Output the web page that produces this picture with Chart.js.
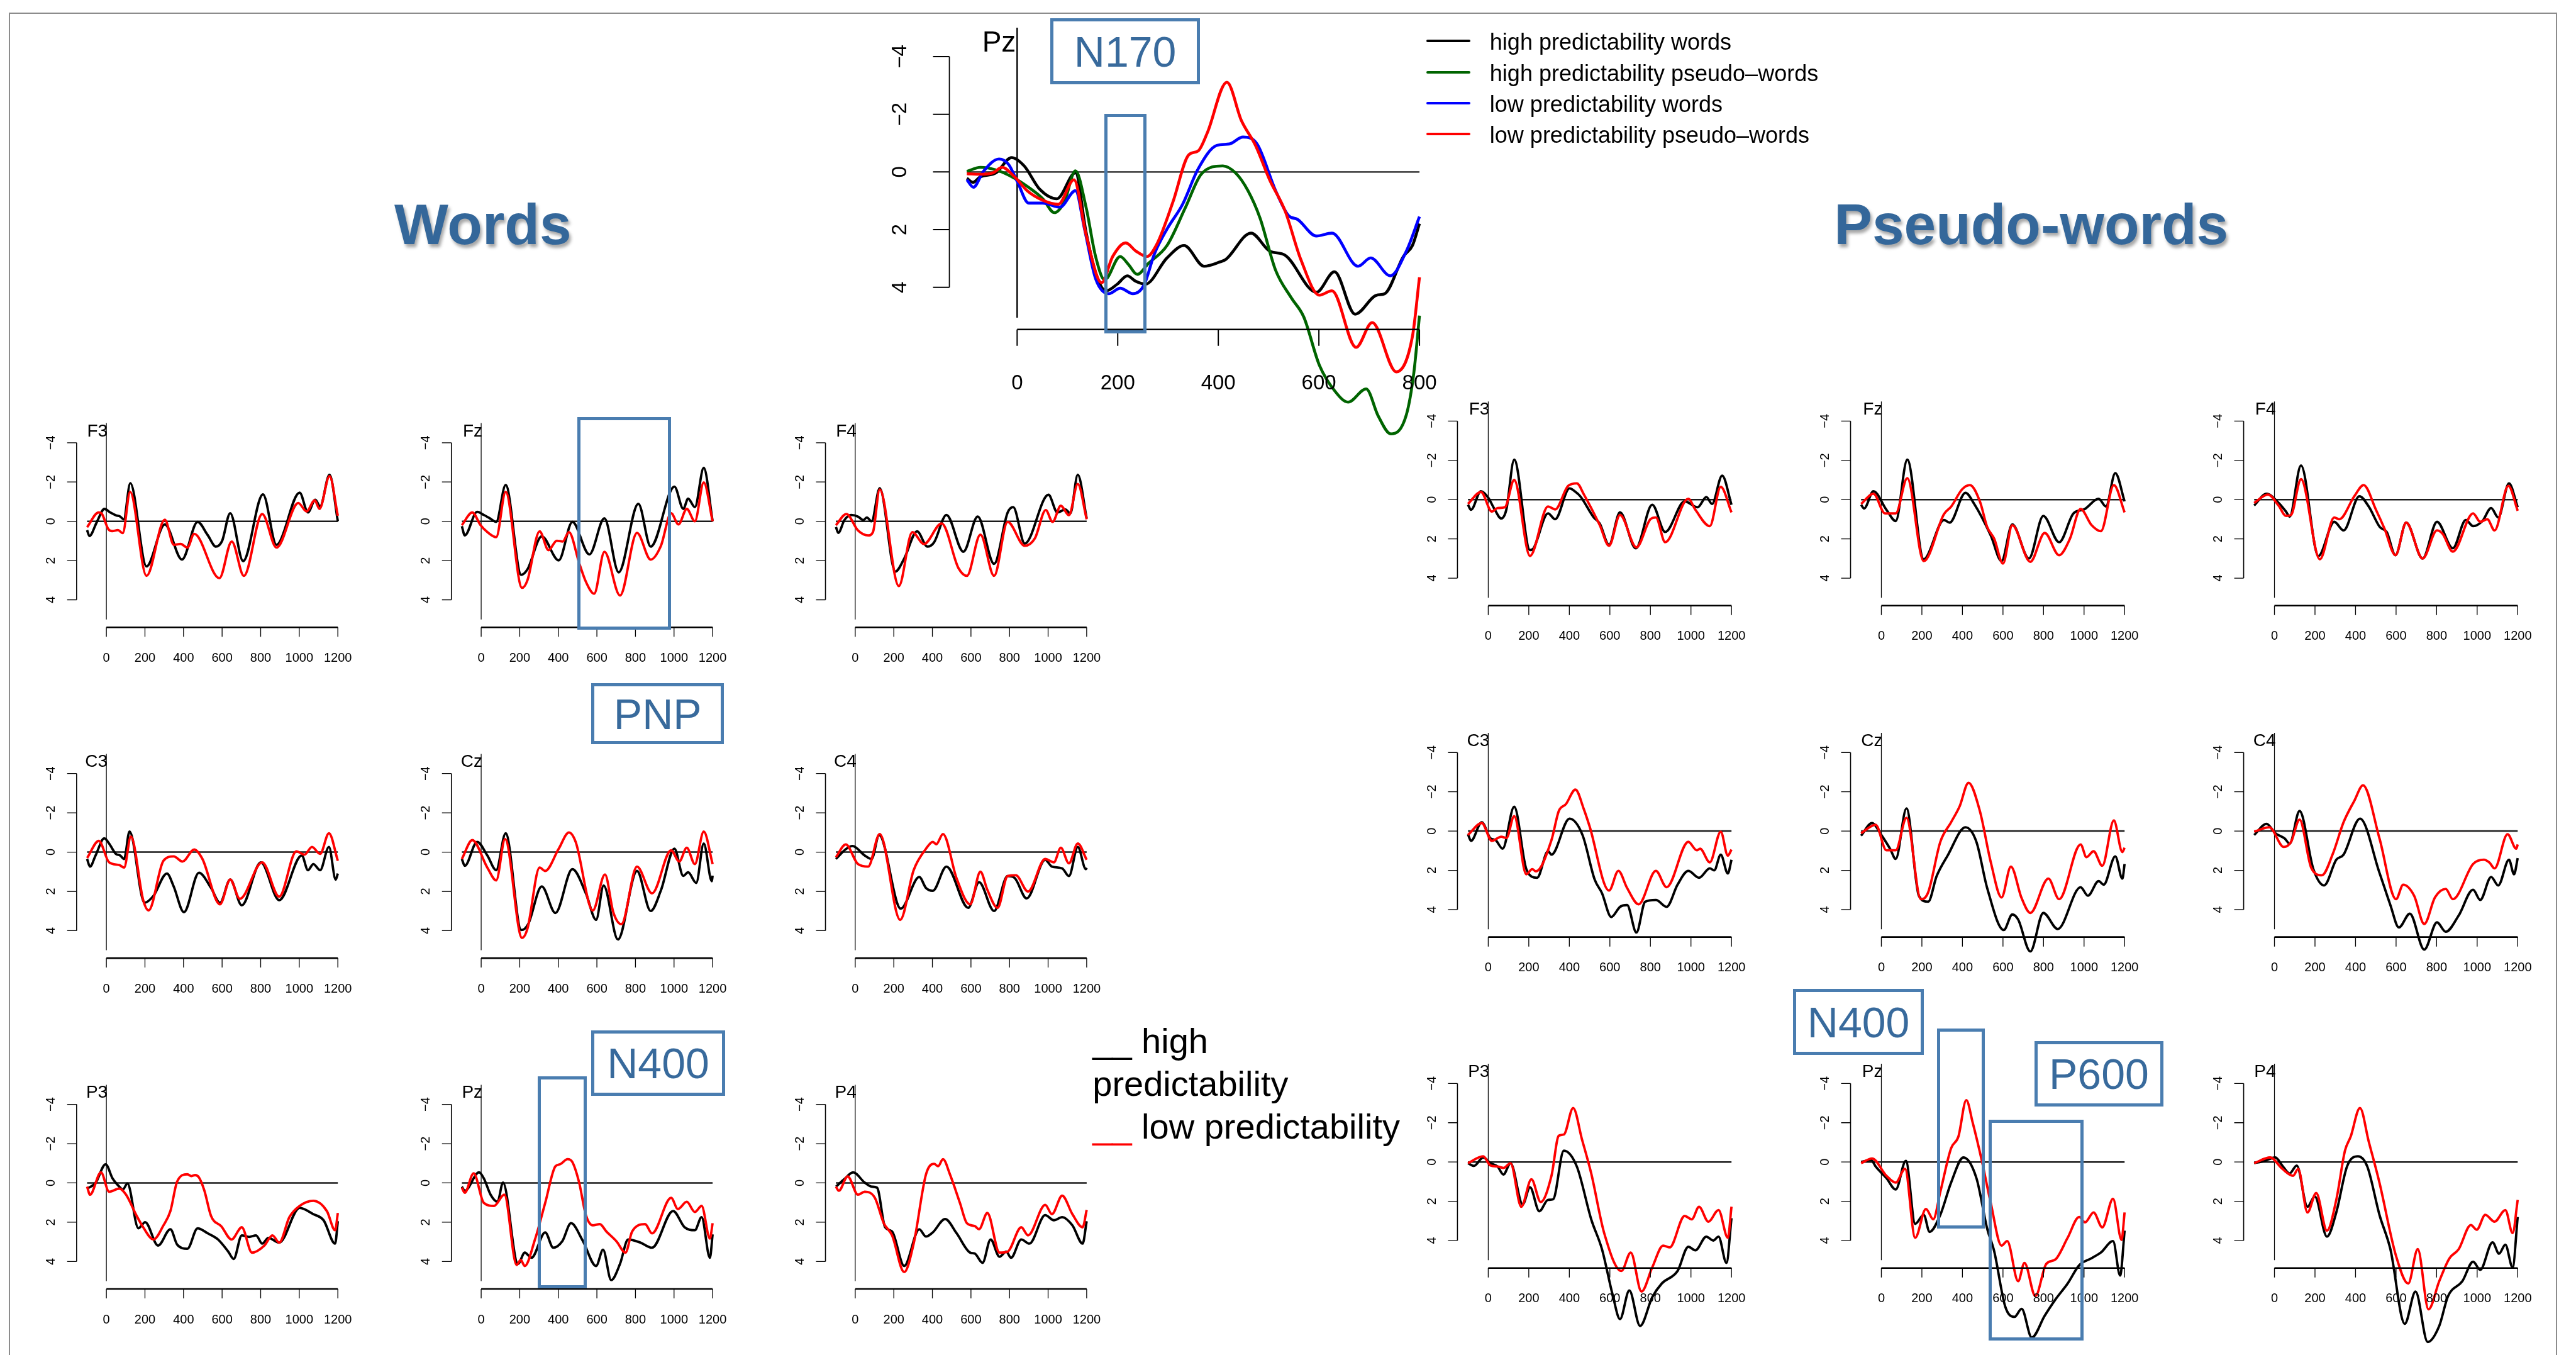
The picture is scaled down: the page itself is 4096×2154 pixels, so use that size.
<!DOCTYPE html>
<html>
<head>
<meta charset="utf-8">
<script src="https://cdn.jsdelivr.net/npm/chart.js@4.4.0/dist/chart.umd.min.js"></script>
<style>
html, body { margin: 0; padding: 0; background: #fff; }
body { width: 4096px; height: 2154px; position: relative; overflow: hidden; font-family: "Liberation Sans", Arial, sans-serif; }
canvas { position: absolute; }
.frame { position: absolute; border: 2.5px solid #8c8c8c; border-bottom: none; box-sizing: border-box; }
.title { position: absolute; font-weight: bold; color: #34679a; font-size: 91px; white-space: nowrap;
         text-shadow: 3px 5px 5px rgba(0,0,0,0.35); transform: translate(-50%, -50%); }
.box { position: absolute; border: 5px solid #4a7db0; box-sizing: border-box; z-index: 5; }
.tag { background: #fff; color: #386a9c; font-size: 68px; display: flex; align-items: center; justify-content: center; }
.txt { position: absolute; white-space: nowrap; color: #000; }
.lg { position: absolute; height: 4px; border-radius: 2px; }
</style>
</head>
<body>
<script>
// ---- tick labels / categories ----
const SMALL_X_TICKS = [0, 200, 400, 600, 800, 1000, 1200];
const BIG_X_TICKS = [0, 200, 400, 600, 800];
const Y_TICKS = [-4, -2, 0, 2, 4];
const ELECTRODES = [['F3', 'Fz', 'F4'], ['C3', 'Cz', 'C4'], ['P3', 'Pz', 'P4']];
const BIG_LABELS = ['high predictability words', 'high predictability pseudo\u2013words',
                    'low predictability words', 'low predictability pseudo\u2013words'];

// ---- Words, high (black) / low (red) predictability, [ms, µV] ----
const W_F3_HI = [[-100,0.45],[-88,0.75],[-50,0.05],[-10,-0.63],[20,-0.45],[50,-0.3],[70,-0.25],[90,-0.1],[124,-1.94],[208,2.3],[303,0.16],[392,1.95],[473,0.03],[525,0.7],[568,1.29],[600,1.0],[642,-0.41],[709,2.03],[812,-1.37],[882,1.2],[1002,-1.46],[1045,-0.45],[1083,-1.1],[1108,-0.76],[1157,-2.37],[1200,0]];
const W_F3_LO = [[-100,0.3],[-40,-0.45],[-25,-0.4],[10,0.4],[30,0.5],[60,0.45],[85,0.6],[123,-1.5],[208,2.78],[303,-0.08],[350,1.2],[385,1.15],[420,1.34],[455,0.64],[586,2.9],[650,1.03],[713,2.78],[808,-0.37],[882,1.34],[995,-0.93],[1038,-0.5],[1080,-1.07],[1105,-0.63],[1157,-2.3],[1200,-0.28]];
const W_FZ_HI = [[-100,0.25],[-85,0.72],[-21,-0.48],[14,-0.32],[45,-0.15],[78,0.03],[127,-1.85],[208,2.73],[240,2.45],[314,0.77],[402,1.99],[473,0.03],[561,1.69],[639,-0.15],[713,2.6],[815,-0.89],[879,1.29],[1002,-1.76],[1048,-0.63],[1073,-1.15],[1108,-0.72],[1154,-2.72],[1200,0]];
const W_FZ_LO = [[-100,0.2],[-46,-0.45],[-3,0.2],[32,0.55],[78,0.81],[127,-1.5],[212,3.39],[240,3.0],[303,0.51],[349,1.47],[392,0.99],[423,1.03],[455,0.55],[508,2.12],[543,3.08],[586,3.69],[639,1.55],[720,3.78],[808,0.59],[879,1.95],[932,1.25],[985,-0.41],[1023,0.16],[1066,-0.63],[1108,0],[1154,-1.98],[1200,0]];
const W_F4_HI = [[-100,0.29],[-88,0.59],[-56,-0.06],[-21,-0.32],[14,-0.24],[42,-0.06],[60,-0.19],[85,0],[127,-1.68],[208,2.56],[254,1.9],[321,0.51],[374,1.29],[409,1.07],[473,-0.32],[561,1.55],[635,-0.24],[720,2.17],[790,-0.44],[819,-0.72],[879,1.14],[1002,-1.35],[1048,-0.45],[1090,-0.6],[1115,-0.4],[1154,-2.37],[1200,-0.15]];
const W_F4_LO = [[-100,0.2],[-46,-0.37],[14,0.46],[67,0.72],[92,0.55],[127,-1.62],[226,3.3],[296,0.55],[356,1.16],[448,0.11],[536,2.4],[579,2.78],[649,0.68],[720,2.78],[790,0.03],[879,1.25],[932,0.86],[988,-0.57],[1023,0.03],[1066,-0.79],[1108,-0.31],[1154,-1.9],[1200,-0.1]];
const W_C3_HI = [[-100,0.35],[-85,0.74],[-56,0.17],[-11,-0.7],[14,-0.44],[49,0.09],[71,0.17],[92,0.35],[120,-1.05],[198,2.58],[244,2.23],[314,1.09],[349,1.75],[402,3.06],[480,1.05],[543,1.83],[589,2.58],[642,1.4],[702,2.71],[801,0.52],[896,2.45],[1013,0.17],[1045,0.92],[1073,0.61],[1108,0.92],[1154,-0.26],[1189,1.4],[1200,1.09]];
const W_C3_LO = [[-100,0.3],[-39,-0.57],[14,0.52],[67,0.66],[92,0.79],[127,-0.79],[191,2.45],[219,2.97],[296,0.44],[349,0.22],[395,0.48],[455,-0.13],[498,0.35],[589,2.66],[642,1.4],[692,2.38],[808,0.52],[896,2.27],[985,-0.04],[1027,0.13],[1066,-0.26],[1108,0.09],[1154,-0.96],[1200,0.44]];
const W_CZ_HI = [[-100,0.35],[-85,0.7],[-21,-0.52],[32,0.17],[78,0.92],[127,-0.96],[208,3.97],[244,3.66],[314,1.75],[385,3.1],[473,0.87],[543,2.1],[596,3.45],[635,1.7],[709,4.45],[808,0.96],[879,3.0],[932,1.95],[1002,-0.17],[1048,1.21],[1073,1.03],[1115,1.57],[1154,-0.44],[1196,1.48],[1200,1.2]];
const W_CZ_LO = [[-100,0.35],[-46,-0.61],[32,0.79],[78,1.44],[124,-0.66],[212,4.37],[240,3.9],[303,0.79],[332,0.96],[402,-0.17],[455,-1.0],[490,-0.52],[579,2.97],[642,1.14],[685,3.06],[727,3.67],[808,0.74],[886,2.1],[985,-0.09],[1027,0.48],[1066,-0.22],[1108,0.61],[1154,-1.05],[1200,0.61]];
const W_C4_HI = [[-100,0.35],[-46,-0.17],[-14,-0.31],[49,0.17],[85,0.35],[124,-0.87],[236,2.88],[332,1.27],[367,1.83],[402,1.97],[473,0.74],[586,2.84],[642,1.53],[720,3.0],[790,1.22],[826,1.31],[889,2.36],[985,0.39],[1020,0.74],[1073,0.83],[1108,1.22],[1154,-0.26],[1196,0.87],[1200,0.8]];
const W_C4_LO = [[-100,0.26],[-49,-0.39],[14,0.61],[67,0.74],[127,-0.92],[233,3.45],[303,0.92],[367,-0.17],[402,-0.52],[420,-0.4],[455,-0.92],[526,1.35],[596,2.66],[649,1.0],[685,1.92],[738,2.84],[790,1.22],[833,1.18],[896,2.01],[985,0.35],[1030,0.52],[1066,-0.22],[1108,0.57],[1154,-0.44],[1200,0.39]];
const W_P3_HI = [[-100,0.29],[-56,0],[-4,-0.95],[32,-0.23],[67,0.19],[85,0.34],[109,0.03],[166,2.31],[201,2.0],[268,3.19],[332,2.36],[367,3.14],[420,3.35],[473,2.31],[526,2.57],[579,2.88],[632,3.5],[660,3.87],[702,2.67],[740,2.75],[776,2.67],[808,3.09],[840,2.8],[896,3.04],[1002,1.27],[1073,1.59],[1126,1.9],[1186,3.09],[1200,1.95]];
const W_P3_LO = [[-100,0.19],[-85,0.6],[-28,-0.54],[14,0.45],[67,0.29],[102,0.6],[155,1.64],[191,2.26],[244,2.88],[296,2.16],[332,1.43],[367,-0.07],[420,-0.44],[440,-0.35],[460,-0.4],[480,-0.28],[508,0.39],[543,1.69],[596,2.21],[649,2.88],[702,2.26],[755,3.55],[819,3.19],[861,2.67],[896,3.04],[949,1.74],[1002,1.17],[1073,0.91],[1143,1.43],[1186,2.41],[1200,1.53]];
const W_PZ_HI = [[-100,0.19],[-85,0.4],[-11,-0.54],[14,-0.23],[49,0.6],[85,0.96],[113,-0.02],[191,4.12],[226,3.55],[261,3.81],[332,2.52],[374,3.3],[420,2.98],[466,2.05],[526,2.93],[596,4.23],[632,3.4],[674,4.95],[720,4.12],[762,2.88],[826,3.04],[886,3.3],[995,1.43],[1055,2.26],[1108,2.41],[1143,1.74],[1186,3.81],[1200,2.62]];
const W_PZ_LO = [[-100,0.24],[-85,0.5],[-39,-0.49],[14,1.02],[67,1.17],[120,0.6],[184,4.18],[205,3.92],[226,4.23],[279,2.88],[332,1.02],[385,-0.85],[409,-0.95],[448,-1.21],[473,-1.06],[508,-0.02],[543,1.64],[579,2.16],[615,2.1],[649,2.47],[702,2.98],[748,3.55],[783,2.47],[850,2.1],[886,2.57],[985,0.76],[1020,1.33],[1066,0.96],[1108,1.48],[1143,1.17],[1186,2.83],[1200,2.05]];
const W_P4_HI = [[-100,0.19],[-56,-0.2],[-11,-0.54],[49,-0.02],[85,0.19],[113,0.24],[155,2.26],[191,2.47],[254,4.23],[332,2.36],[367,2.73],[402,2.52],[466,1.84],[526,2.57],[596,3.55],[620,3.6],[660,4.07],[702,2.88],[748,3.76],[783,3.5],[808,3.81],[861,2.88],[903,3.09],[985,1.64],[1030,1.9],[1073,1.74],[1126,2.16],[1179,3.09],[1200,1.95]];
const W_P4_LO = [[-100,0.19],[-85,0.4],[-39,-0.33],[14,0.6],[49,0.45],[102,0.76],[148,2.05],[191,2.67],[254,4.54],[303,3.09],[367,-0.44],[409,-0.97],[430,-0.85],[455,-1.21],[491,-0.44],[543,1.02],[579,2.05],[620,2.2],[642,2.36],[685,1.53],[748,3.55],[790,3.5],[861,2.26],[896,2.67],[985,1.12],[1020,1.59],[1073,0.65],[1126,1.59],[1179,2.26],[1200,1.38]];

// ---- Pseudo-words, high (black) / low (red) predictability, [ms, µV] ----
const P_F3_HI = [[-100,0.26],[-85,0.52],[-36,-0.43],[0,-0.1],[28,0.43],[64,0.96],[89,0.52],[128,-2.04],[206,2.57],[222,2.5],[295,0.7],[330,1.0],[401,-0.57],[430,-0.4],[454,-0.17],[520,0.9],[550,1.22],[596,2.3],[650,0.65],[728,2.48],[809,0.26],[873,1.65],[969,0.09],[1033,0.39],[1076,-0.13],[1104,0.22],[1154,-1.22],[1200,0.26]];
const P_F3_LO = [[-100,0.22],[-36,-0.39],[18,0.61],[46,0.43],[82,0.39],[128,-1.0],[206,2.87],[295,0.35],[330,0.5],[394,-0.7],[437,-0.83],[472,-0.26],[550,1.3],[596,2.35],[650,0.78],[731,2.43],[800,1.0],[827,0.91],[873,2.17],[987,-0.04],[1022,0.52],[1093,1.35],[1147,-0.65],[1200,0.65]];
const P_FZ_HI = [[-100,0.26],[-85,0.45],[-39,-0.43],[25,0.52],[71,1.09],[128,-2.04],[209,3.04],[309,1.04],[337,1.17],[415,-0.35],[458,0.22],[540,1.83],[593,3.13],[646,1.26],[728,3.0],[799,0.83],[877,2.17],[948,0.7],[1000,0.5],[1072,-0.04],[1108,0.35],[1154,-1.35],[1200,0.09]];
const P_FZ_LO = [[-100,0.22],[-39,-0.3],[18,0.7],[71,0.7],[128,-1.09],[209,3.13],[309,0.74],[345,0.35],[398,-0.52],[437,-0.74],[486,0.09],[522,1.39],[557,2.0],[600,3.26],[646,1.3],[735,3.17],[806,1.7],[877,2.83],[930,2.0],[983,0.48],[1037,1.3],[1083,1.61],[1147,-0.74],[1200,0.65]];
const P_F4_HI = [[-100,0.3],[-39,-0.3],[21,0.17],[57,0.61],[75,0.87],[131,-1.74],[217,2.87],[295,1.13],[341,1.57],[419,-0.17],[465,0.35],[520,1.4],[554,1.65],[597,2.83],[650,1.17],[731,3.0],[802,1.13],[880,2.48],[944,1.04],[980,1.35],[1026,1.09],[1069,0.43],[1104,0.91],[1157,-0.83],[1200,0.39]];
const P_F4_LO = [[-100,0.17],[-32,-0.26],[20,0.3],[57,0.83],[82,0.78],[131,-1.04],[224,3.04],[295,0.91],[320,1.0],[394,-0.17],[440,-0.74],[501,0.52],[543,1.48],[597,2.83],[650,1.17],[731,3.0],[802,1.57],[830,1.75],[880,2.65],[980,0.7],[1015,1.13],[1050,1.0],[1086,1.57],[1154,-0.7],[1200,0.57]];
const P_C3_HI = [[-100,0.16],[-85,0.5],[-32,-0.45],[11,0.37],[36,0.46],[71,0.9],[128,-1.24],[188,1.94],[241,2.38],[295,1.03],[312,1.2],[401,-0.63],[465,0.2],[525,2.47],[561,3.16],[607,4.38],[650,3.86],[685,3.77],[731,5.17],[774,3.6],[827,3.51],[880,3.86],[934,2.73],[987,2.03],[1040,2.38],[1093,1.9],[1115,2.0],[1147,1.2],[1182,2.16],[1200,1.46]];
const P_C3_LO = [[-100,0.2],[-32,-0.41],[18,0.5],[64,0.29],[90,0.35],[128,-0.76],[188,2.2],[217,1.94],[235,2.05],[312,0.46],[348,-1.02],[383,-1.37],[430,-2.11],[472,-1.1],[500,-0.24],[596,3.03],[642,2.03],[685,2.9],[742,3.73],[827,2.03],[880,2.86],[987,0.55],[1029,0.98],[1045,0.9],[1093,1.59],[1147,0.03],[1182,1.25],[1200,0.94]];
const P_CZ_HI = [[-100,0.24],[-46,-0.41],[0,0.2],[43,0.9],[71,1.42],[124,-1.15],[185,3.29],[231,3.6],[273,2.29],[327,1.25],[415,-0.19],[469,0.55],[522,2.9],[604,5.04],[646,4.25],[675,4.51],[735,6.13],[799,4.17],[870,4.99],[983,2.86],[1019,3.29],[1072,2.55],[1097,2.73],[1154,1.29],[1189,2.42],[1200,1.68]];
const P_CZ_LO = [[-100,0.11],[-28,-0.32],[25,0.98],[71,0.98],[124,-0.67],[195,3.47],[231,3.12],[291,0.55],[344,-0.45],[387,-1.28],[430,-2.46],[486,-1.02],[540,1.59],[593,3.38],[639,1.81],[692,3.42],[735,4.17],[824,2.42],[877,3.47],[983,0.68],[1012,1.33],[1047,1.03],[1090,1.77],[1147,-0.54],[1189,1.07],[1200,0.85]];
const P_C4_HI = [[-100,0.2],[-39,-0.37],[4,0.11],[50,0.37],[75,0.64],[124,-1.02],[192,1.94],[245,2.77],[305,1.46],[341,1.2],[422,-0.63],[518,2.12],[572,3.77],[614,4.91],[668,4.21],[739,6.04],[802,4.65],[845,5.13],[909,4.3],[980,2.99],[1015,3.51],[1069,2.34],[1104,2.77],[1157,1.46],[1182,2.2],[1200,1.38]];
const P_C4_LO = [[-100,0.03],[-25,-0.19],[46,0.81],[82,0.55],[124,-0.58],[181,1.86],[234,2.25],[288,1.16],[341,-0.45],[394,-1.54],[437,-2.33],[518,0.37],[600,3.47],[635,2.73],[689,3.29],[739,4.73],[792,3.38],[845,2.95],[880,3.47],[980,1.68],[1033,1.46],[1060,1.6],[1086,1.9],[1150,0.16],[1193,0.9],[1200,0.68]];
const P_P3_HI = [[-100,0.06],[-70,0.2],[-25,-0.23],[11,0.06],[46,0.23],[75,0.64],[110,0.06],[170,2.16],[206,1.29],[252,2.51],[295,1.93],[320,1.9],[373,-0.58],[437,0.23],[508,2.92],[561,4.44],[614,6.78],[650,8.0],[696,6.54],[749,8.35],[809,6.89],[856,6.19],[934,5.55],[987,4.32],[1022,4.5],[1076,3.8],[1110,4.0],[1136,3.8],[1175,5.14],[1200,2.86]];
const P_P3_LO = [[-100,0.06],[-25,-0.29],[11,0.18],[46,0.23],[75,0.3],[110,0.06],[163,2.28],[213,0.88],[259,2.04],[312,0.7],[348,-1.34],[373,-1.4],[419,-2.75],[462,-1.17],[508,0.58],[572,3.62],[657,5.55],[703,4.61],[756,6.6],[809,5.37],[863,4.26],[895,4.35],[969,2.75],[1004,2.92],[1040,2.28],[1086,3.04],[1136,2.45],[1182,3.86],[1200,2.28]];
const P_PZ_HI = [[-100,0],[-50,-0.1],[-28,0.23],[25,0.82],[71,1.4],[121,-0.06],[167,3.15],[209,2.69],[238,3.56],[291,2.69],[344,1.05],[405,-0.23],[469,0.82],[522,3.39],[557,4.56],[611,7.36],[657,7.89],[692,7.48],[742,8.94],[806,7.83],[859,7.0],[919,6.19],[976,5.26],[1037,4.9],[1083,4.61],[1143,4.03],[1178,5.78],[1200,3.5]];
const P_PZ_LO = [[-100,0.06],[-46,-0.18],[25,0.7],[71,1.05],[117,0.35],[167,3.86],[220,2.39],[256,2.92],[291,1.52],[344,-0.7],[380,-1.29],[419,-3.15],[451,-1.99],[497,0],[540,2.1],[593,4.26],[621,4.03],[675,6.07],[706,5.14],[760,6.83],[813,5.2],[859,4.96],[919,3.86],[976,2.8],[1005,3.07],[1047,2.57],[1090,3.33],[1143,1.87],[1185,3.97],[1200,2.57]];
const P_P4_HI = [[-100,0.06],[-50,-0.05],[4,-0.23],[40,0.2],[75,0.58],[110,0.18],[163,2.28],[199,1.75],[259,3.8],[305,2.57],[358,0.23],[412,-0.29],[458,0.23],[518,2.69],[572,4.44],[643,8.24],[696,6.6],[756,9.17],[813,8.35],[856,6.84],[927,6.07],[980,5.08],[1015,5.49],[1076,4.09],[1108,4.67],[1139,4.21],[1175,5.37],[1200,2.8]];
const P_P4_LO = [[-100,0.06],[-21,-0.23],[39,0.35],[92,0.7],[117,0.35],[163,2.57],[206,1.58],[259,3.5],[305,1.93],[348,-0.58],[376,-1.29],[422,-2.75],[465,-1.05],[518,1.05],[600,4.79],[660,6.19],[707,4.44],[760,7.5],[813,6.07],[863,4.91],[909,4.44],[969,3.21],[998,3.45],[1040,2.69],[1086,3.04],[1139,2.45],[1175,3.62],[1200,1.93]];

// ---- large Pz panel, four conditions, [ms, µV] ----
const PZ_HI_WORDS = [[-100,0.22],[-88,0.36],[-73,0.17],[-42,0.03],[-11,-0.5],[14,-0.21],[45,0.6],[79,0.93],[116,0.03],[137,2.08],[156,3.5],[177,4.12],[199,3.89],[219,3.6],[236,3.79],[255,3.89],[298,2.98],[332,2.55],[372,3.27],[403,3.12],[415,3.03],[465,2.12],[502,2.74],[533,2.89],[595,4.17],[631,3.46],[672,4.93],[715,4.27],[731,4.22],[768,2.93],[786,2.55],[800,1.79]];
const PZ_HI_PSEUDO = [[-100,-0.02],[-73,-0.16],[-42,-0.07],[-5,0.22],[32,0.65],[51,0.93],[74,1.41],[94,1.03],[116,-0.04],[137,1.22],[156,2.93],[174,3.74],[205,2.93],[221,3.2],[239,3.55],[261,3.17],[298,2.55],[335,1.22],[366,0.08],[409,-0.21],[434,0.03],[459,0.65],[483,1.6],[514,3.41],[545,4.36],[570,5.03],[601,6.7],[632,7.6],[658,7.98],[694,7.52],[718,8.46],[743,9.08],[774,8.41],[789,6.93],[800,4.98]];
const PZ_LO_WORDS = [[-100,0.27],[-87,0.53],[-67,-0.02],[-36,-0.45],[-17,-0.26],[1,0.36],[23,1.08],[51,1.08],[85,1.22],[116,0.65],[134,1.98],[156,3.7],[182,4.22],[205,4.03],[230,4.22],[252,3.93],[273,2.84],[298,1.98],[329,1.12],[360,-0.11],[397,-0.92],[422,-0.97],[449,-1.21],[477,-0.97],[514,0.65],[539,1.5],[558,1.65],[595,2.22],[626,2.12],[678,3.27],[703,2.98],[742,3.6],[774,2.74],[800,1.55]];
const PZ_LO_PSEUDO = [[-100,0.06],[-73,0.08],[-48,0.03],[-30,-0.16],[-5,0.17],[20,0.65],[51,0.98],[82,1.12],[113,0.27],[137,2.17],[168,3.84],[190,2.93],[216,2.46],[236,2.74],[258,2.93],[279,2.46],[310,1.03],[341,-0.59],[360,-0.73],[378,-1.35],[417,-3.11],[446,-1.78],[474,-0.92],[502,0.27],[533,1.36],[564,3.03],[601,4.27],[626,4.12],[674,6.08],[706,5.22],[754,6.93],[786,5.7],[800,3.65]];

const WORD_SERIES = [[W_F3_HI, W_F3_LO], [W_FZ_HI, W_FZ_LO], [W_F4_HI, W_F4_LO],
                     [W_C3_HI, W_C3_LO], [W_CZ_HI, W_CZ_LO], [W_C4_HI, W_C4_LO],
                     [W_P3_HI, W_P3_LO], [W_PZ_HI, W_PZ_LO], [W_P4_HI, W_P4_LO]];
const PSEUDO_SERIES = [[P_F3_HI, P_F3_LO], [P_FZ_HI, P_FZ_LO], [P_F4_HI, P_F4_LO],
                       [P_C3_HI, P_C3_LO], [P_CZ_HI, P_CZ_LO], [P_C4_HI, P_C4_LO],
                       [P_P3_HI, P_P3_LO], [P_PZ_HI, P_PZ_LO], [P_P4_HI, P_P4_LO]];
const BIG_SERIES = [PZ_HI_WORDS, PZ_HI_PSEUDO, PZ_LO_WORDS, PZ_LO_PSEUDO];
const BIG_COLORS = ['#000000', '#006400', '#0000ff', '#ff0000'];

// ---- layout (reference pixels, scaled by S) ----
const S = 0.816;
const FONT = '"Liberation Sans", Arial, sans-serif';

// R-style axes: lines only from first to last tick, outward ticks, rotated y labels
const rAxes = {
    id: 'rAxes',
    afterDatasetsDraw(chart, args, o) {
        const ctx = chart.ctx, x = chart.scales.x, y = chart.scales.y;
        const fmt = v => (v < 0 ? '\u2212' + Math.abs(v) : String(v));
        ctx.save();
        ctx.strokeStyle = '#000';
        ctx.fillStyle = '#000';

        // y axis
        const ax = x.getPixelForValue(o.yAxisAt);
        ctx.lineWidth = o.yLine;
        ctx.beginPath();
        ctx.moveTo(ax, y.getPixelForValue(o.yTicks[0]));
        ctx.lineTo(ax, y.getPixelForValue(o.yTicks[o.yTicks.length - 1]));
        ctx.stroke();
        ctx.lineWidth = o.tickLine;
        ctx.beginPath();
        o.yTicks.forEach(v => {
            const p = y.getPixelForValue(v);
            ctx.moveTo(ax, p);
            ctx.lineTo(ax - o.tickLen, p);
        });
        ctx.stroke();
        ctx.font = o.tickFont + 'px ' + FONT;
        ctx.textAlign = 'center';
        ctx.textBaseline = 'middle';
        o.yTicks.forEach(v => {
            ctx.save();
            ctx.translate(ax - o.yLabelGap, y.getPixelForValue(v));
            ctx.rotate(-Math.PI / 2);
            ctx.fillText(fmt(v), 0, 0);
            ctx.restore();
        });

        // x axis
        const ay = y.getPixelForValue(o.xAxisAt);
        ctx.lineWidth = o.xLine;
        ctx.beginPath();
        ctx.moveTo(x.getPixelForValue(o.xTicks[0]), ay);
        ctx.lineTo(x.getPixelForValue(o.xTicks[o.xTicks.length - 1]), ay);
        ctx.stroke();
        ctx.lineWidth = o.tickLine;
        ctx.beginPath();
        o.xTicks.forEach(v => {
            const p = x.getPixelForValue(v);
            ctx.moveTo(p, ay);
            ctx.lineTo(p, ay + o.tickLen);
        });
        ctx.stroke();
        o.xTicks.forEach(v => ctx.fillText(fmt(v), x.getPixelForValue(v), ay + o.xLabelGap));

        // electrode label
        ctx.font = o.labelFont + 'px ' + FONT;
        ctx.textAlign = 'right';
        ctx.textBaseline = 'alphabetic';
        ctx.fillText(o.label, x.getPixelForValue(0) + o.labelShift, y.getPixelForValue(o.labelAt));
        ctx.restore();
    }
};

function addPanel(p) {
    const caL = (p.x0 + p.xmin * p.pxMs) * S, caR = (p.x0 + p.xmax * p.pxMs) * S;
    const caT = (p.zero - 4 * p.ppu) * S, caB = (p.zero + 4 * p.ppu) * S;
    const left = Math.floor(caL - p.pad[0]), top = Math.floor(caT - p.pad[1]);
    const right = Math.ceil(caR + p.pad[2]), bottom = Math.ceil(caB + p.pad[3]);
    const cv = document.createElement('canvas');
    cv.width = right - left;
    cv.height = bottom - top;
    cv.style.left = left + 'px';
    cv.style.top = top + 'px';
    document.body.appendChild(cv);

    const line = (data, color, width, order) => ({
        data: data, borderColor: color, borderWidth: width, pointRadius: 0,
        cubicInterpolationMode: 'monotone', clip: false, order: order, fill: false
    });
    const datasets = [
        line([[0, -5], [0, p.vTop]], '#000', p.vWidth, 20),
        line([[p.xmin, 0], [p.xmax, 0]], '#1a1a1a', p.hWidth, 19)
    ];
    p.series.forEach((s, i) => datasets.push(line(s, p.colors[i], p.lineWidth, p.series.length - i)));

    new Chart(cv.getContext('2d'), {
        type: 'line',
        data: { datasets: datasets },
        options: {
            responsive: false,
            animation: false,
            devicePixelRatio: 1,
            events: [],
            layout: { padding: { left: caL - left, top: caT - top, right: right - caR, bottom: bottom - caB } },
            scales: {
                x: { type: 'linear', min: p.xmin, max: p.xmax, display: false },
                y: { type: 'linear', min: -4, max: 4, reverse: true, display: false }
            },
            plugins: {
                legend: { display: false },
                tooltip: { enabled: false },
                rAxes: p.axes
            }
        },
        plugins: [rAxes]
    });
}

function smallAxes(label, yAxisAt) {
    return {
        label: label, labelAt: -4.33, labelShift: 2, labelFont: 28,
        yAxisAt: yAxisAt, xAxisAt: 5.4, xTicks: SMALL_X_TICKS, yTicks: Y_TICKS,
        tickLen: 15, tickLine: 1.3, yLine: 1.6, xLine: 2.6,
        tickFont: 20, yLabelGap: 40, xLabelGap: 49
    };
}

// Words grid
const WORD_X0 = [207.3, 937.6, 1666.5], WORD_ZERO = [1015.5, 1660, 2304.5];
// Pseudo-words grid
const PSEUDO_X0 = [2900, 3666, 4432], PSEUDO_ZERO = [973.3, 1619, 2263.7];

for (let r = 0; r < 3; r++) {
    for (let c = 0; c < 3; c++) {
        addPanel({
            x0: WORD_X0[c], zero: WORD_ZERO[r], pxMs: 451 / 1200, ppu: 38.25,
            xmin: -100, xmax: 1200, vTop: 5, vWidth: 1.2, hWidth: 2.5, lineWidth: 3.8,
            pad: [90, 50, 40, 240], series: WORD_SERIES[r * 3 + c], colors: ['#000000', '#ff0000'],
            axes: smallAxes(ELECTRODES[r][c], -154.3)
        });
        addPanel({
            x0: PSEUDO_X0[c], zero: PSEUDO_ZERO[r], pxMs: 474 / 1200, ppu: 38.25,
            xmin: -100, xmax: 1200, vTop: 5, vWidth: 1.2, hWidth: 2.5, lineWidth: 3.8,
            pad: [90, 50, 40, 240], series: PSEUDO_SERIES[r * 3 + c], colors: ['#000000', '#ff0000'],
            axes: smallAxes(ELECTRODES[r][c], -151.9)
        });
    }
}

// large Pz panel
addPanel({
    x0: 1982, zero: 335, pxMs: 0.98, ppu: 56.2,
    xmin: -100, xmax: 800, vTop: 5.05, vWidth: 2.4, hWidth: 2.4, lineWidth: 4.6,
    pad: [140, 80, 40, 300], series: BIG_SERIES, colors: BIG_COLORS,
    axes: {
        label: 'Pz', labelAt: -4.18, labelShift: -2, labelFont: 46,
        yAxisAt: -134.7, xAxisAt: 5.46, xTicks: BIG_X_TICKS, yTicks: Y_TICKS,
        tickLen: 26, tickLine: 2, yLine: 1.8, xLine: 2.6,
        tickFont: 33, yLabelGap: 78, xLabelGap: 86
    }
});

// ---- html decorations ----
function el(cls, css, html) {
    const d = document.createElement('div');
    d.className = cls;
    Object.assign(d.style, css);
    if (html !== undefined) d.innerHTML = html;
    document.body.appendChild(d);
    return d;
}
const px = v => (v * S) + 'px';

el('frame', { left: px(17), top: px(24), width: px(4980 - 17 + 3), height: '2400px' });
el('title', { left: px(941), top: px(438) }, 'Words');
el('title', { left: px(3958), top: px(438) }, 'Pseudo-words');

// legend of the large panel
const LEGEND_Y = [80, 141, 201, 261];
BIG_LABELS.forEach((t, i) => {
    el('lg', { left: px(2780), width: px(85), top: (LEGEND_Y[i] * S - 2) + 'px', background: BIG_COLORS[i] });
    el('txt', { left: px(2903), top: (LEGEND_Y[i] * S + 13.6 - 37) + 'px', fontSize: '36px', lineHeight: '49px' }, t);
});

// middle legend
el('txt', { left: px(2129), top: (2052 * S - 53.4) + 'px', fontSize: '56px', lineHeight: '68px' },
   '__ high<br>predictability<br><span style="color:#ff0000">__</span> low predictability');

// annotation tags and highlight rectangles
const TAGS = [['N170', 2047, 36, 2338, 164], ['PNP', 1152, 1331, 1411, 1450], ['N400', 1152, 2007, 1413, 2135],
              ['N400', 3494, 1927, 3749, 2055], ['P600', 3964, 2028, 4216, 2156]];
TAGS.forEach(t => el('box tag', { left: px(t[1]), top: px(t[2]), width: px(t[3] - t[1]), height: px(t[4] - t[2]) }, t[0]));
const RECTS = [[2152, 222, 2234, 649], [1125, 813, 1308, 1227], [1048, 2097, 1144, 2510],
               [3774, 2004, 3868, 2393], [3875, 2181, 4060, 2612]];
RECTS.forEach(b => el('box', { left: px(b[0]), top: px(b[1]), width: px(b[2] - b[0]), height: px(b[3] - b[1]) }));
</script>
</body>
</html>
